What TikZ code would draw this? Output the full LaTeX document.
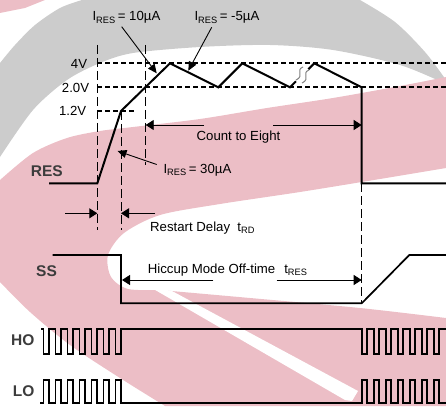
\documentclass[tikz,border=0pt]{standalone}
\usepackage{fontspec}
\setmainfont{Liberation Sans}
\usetikzlibrary{arrows.meta}
\definecolor{wmgray}{RGB}{204,204,204}
\definecolor{wmpink}{RGB}{236,190,198}
\definecolor{txtgray}{RGB}{60,60,60}
\tikzset{
  sig/.style={line width=1.7pt},
  hguide/.style={line width=1.7pt, dash pattern=on 5pt off 3pt},
  vguide/.style={line width=0.9pt, dash pattern=on 9pt off 4pt},
  dimarrow/.style={line width=0.9pt, -{Triangle[length=8pt,width=10pt]}},
  ptr/.style={line width=0.9pt, -{Triangle[length=9pt,width=8pt]}},
  lbl/.style={inner sep=0pt, font=\fontsize{13.2}{15}\selectfont},
  siglbl/.style={inner sep=0pt, text=txtgray, font=\fontsize{15.5}{17}\selectfont\bfseries},
}

\begin{document}
\begin{tikzpicture}[x=1pt,y=-1pt]
  \useasboundingbox (0,0) rectangle (446,406);
  % watermark behind the timing diagram
  \begin{scope}
    \clip (0,0) rectangle (446,406);
    \fill[wmgray] plot[smooth] coordinates {(0,63) (15,45) (35,25) (60,8) (82,0)} -- (360,0)
      -- plot[smooth] coordinates {(360,0) (395,22) (425,52) (446,80)}
      -- plot[smooth] coordinates {(446,84) (400,65) (333,50) (270,45) (200,47) (133,53) (100,63) (67,80) (33,110) (0,157)} -- cycle;
    \fill[wmpink] plot[smooth] coordinates {(446,77) (400,86) (333,98) (267,108) (200,119) (133,127) (100,131) (67,138) (33,153) (0,180)}
      -- (0,282) -- plot[smooth] coordinates {(0,282) (30,312) (70,345) (120,378) (165,406)}
      -- (446,406) -- (446,318) -- plot[smooth] coordinates {(446,318) (360,308) (250,298) (160,290)}
      -- plot[smooth] coordinates {(160,290) (128,289) (111,277) (108,255) (124,233) (160,215) (220,204) (300,192) (380,179) (446,168)} -- cycle;
    \fill[wmpink] (0,0) -- (45,0) -- (25,8) -- (0,13) -- cycle;
    \fill[white] (150,287) -- (172,291) -- (358,391) -- (352,401) -- (345,400) -- cycle;
  \end{scope}

  % level and time guides
  \draw[hguide] (97.3,63.3) -- (446,63.3);
  \draw[hguide] (97.3,87.3) -- (446,87.3);
  \draw[hguide] (97.3,111) -- (137,111);
  \draw[vguide] (97.3,45) -- (97.3,230);
  \draw[vguide] (121,111) -- (121,230);
  \draw[vguide] (145.7,45) -- (145.7,165);
  \draw[vguide] (361.7,183.3) -- (361.7,303.3);

  % RES
  \draw[sig, line width=2pt] (49,183.3) -- (97.3,183.3) -- (121,111) -- (170,63.3) -- (218.3,87.3)
    -- (242.3,63.3) -- (290,87.3) -- (296,81.3);
  \draw[sig, line width=2pt] (308.3,69.3) -- (314.3,63.3) -- (361.7,87.3) -- (361.7,183.3) -- (446,183.3);
  \draw[gray, line width=1pt] (303,67) .. controls (295,70) and (305,76) .. (296,80);
  \draw[gray, line width=1pt] (309,70) .. controls (301,73) and (311,79) .. (302,83);

  % SS
  \draw[sig] (52.7,255) -- (121,255) -- (121,303.3) -- (361.7,303.3) -- (409.3,255) -- (446,255);

  % HO and LO
  \draw[sig] (41,329) -- (43.5,329)
    \foreach \k in {0,...,6} { -- ++(0,25) -- ++(5.5,0) -- ++(0,-25) -- ++(6.5,0) }
    -- (361.7,329)
    \foreach \k in {0,...,6} { -- ++(0,25) -- ++(5.5,0) -- ++(0,-25) -- ++(6.5,0) };
  \draw[sig] (40,403.3) -- (43.5,403.3)
    \foreach \k in {0,...,6} { -- ++(0,-23.3) -- ++(5.5,0) -- ++(0,23.3) -- ++(6.5,0) }
    -- (361.7,403.3)
    \foreach \k in {0,...,6} { -- ++(0,-23.3) -- ++(5.5,0) -- ++(0,23.3) -- ++(6.5,0) };

  % labels
  \node[lbl, anchor=base west] (i10) at (92.3,21) {I\textsubscript{RES}\,= 10µA};
  \node[lbl, anchor=base west] (i5) at (194.3,21) {I\textsubscript{RES}\,= -5µA};
  \node[lbl, anchor=base west] (i30) at (163.3,173.3) {I\textsubscript{RES}\,= 30µA};
  \node[lbl, anchor=base] (cnt) at (238.5,140.5) {Count to Eight};
  \node[lbl, anchor=base west] (trd) at (150,231.7) {Restart Delay\ \ t\textsubscript{RD}};
  \node[lbl, anchor=base west] (tres) at (147.7,273) {Hiccup Mode Off-time\hspace{9pt}t\textsubscript{RES}};
  \node[lbl, anchor=base east] (v4) at (87.3,68.3) {4V};
  \node[lbl, anchor=base east] (v20) at (89.3,92.3) {2.0V};
  \node[lbl, anchor=base east] (v12) at (86.5,116) {1.2V};
  \node[siglbl, anchor=base west] (res) at (30.7,176) {RES};
  \node[siglbl, anchor=base west] (ss) at (36,276.7) {SS};
  \node[siglbl, anchor=base west] (ho) at (11,345) {HO};
  \node[siglbl, anchor=base west] (lo) at (12.7,396.7) {LO};

  % current pointers
  \coordinate (p10) at (121.7,26.7);
  \coordinate (t10) at (156.7,73.3);
  \coordinate (p5) at (211.7,27.3);
  \coordinate (t5) at (188.3,70.7);
  \coordinate (p30) at (156.7,164.5);
  \coordinate (t30) at (117.5,151);
  \draw[ptr] (p10) -- (t10);
  \draw[ptr] (p5) -- (t5);
  \draw[ptr] (p30) -- (t30);

  % time spans
  \coordinate (ce0) at (145.7,125);
  \coordinate (ce1) at (204,125);
  \coordinate (ce2) at (273.3,125);
  \coordinate (ce3) at (361.7,125);
  \draw[dimarrow] (ce1) -- (ce0);
  \draw[dimarrow] (ce2) -- (ce3);
  \coordinate (rd0) at (65,213.3);
  \coordinate (rd1) at (97.3,213.3);
  \coordinate (rd2) at (155,213.3);
  \coordinate (rd3) at (121,213.3);
  \draw[dimarrow] (rd0) -- (rd1);
  \draw[dimarrow] (rd2) -- (rd3);
  \coordinate (hc0) at (213.3,280);
  \coordinate (hc1) at (122,280);
  \coordinate (hc2) at (276.7,280);
  \coordinate (hc3) at (361.7,280);
  \draw[dimarrow] (hc0) -- (hc1);
  \draw[dimarrow] (hc2) -- (hc3);
\end{tikzpicture}
\end{document}
